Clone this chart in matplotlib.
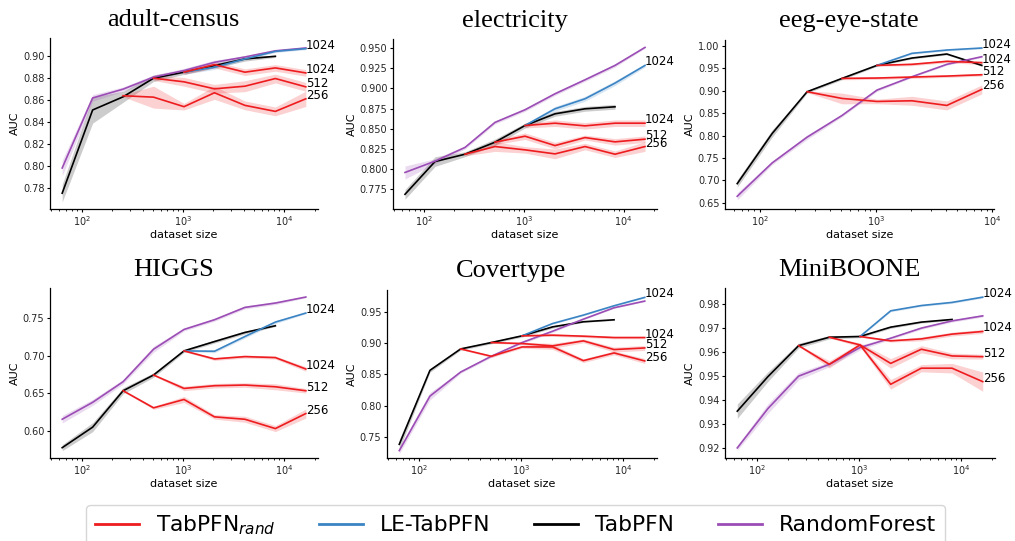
import matplotlib
matplotlib.use("Agg")
import matplotlib.pyplot as plt
import numpy as np
from matplotlib.lines import Line2D
from matplotlib.ticker import MultipleLocator

# ---------------- data ----------------
sizes = [64, 128, 256, 512, 1024, 2048, 4096, 8192, 16384]
titles = ["adult-census", "electricity", "eeg-eye-state", "HIGGS", "Covertype", "MiniBOONE"]
legend_labels = [r"TabPFN$_{rand}$", "LE-TabPFN", "TabPFN", "RandomForest"]
rand_contexts = [256, 512, 1024]
ytick_steps = [0.02, 0.025, 0.05, 0.05, 0.05, 0.01]
ylims = [(0.7606, 0.9167), (0.7508, 0.9612), (0.6358, 1.0134),
         (0.564, 0.790), (0.7163, 0.9848), (0.9159, 0.9867)]

# adult-census
adult_rf = [0.798, 0.862, 0.870, 0.881, 0.887, 0.8945, 0.8994, 0.905, 0.9076]
adult_rf_err = [0.007, 0.003, 0.002, 0.002, 0.002, 0.002, 0.001, 0.001, 0.001]
adult_tabpfn = [0.775, 0.851, 0.863, 0.880, 0.8855, 0.8915, 0.8976, 0.900]
adult_tabpfn_err = [0.008, 0.012, 0.005, 0.003, 0.002, 0.002, 0.002, 0.001]
adult_le = [0.8855, 0.890, 0.8976, 0.9045, 0.907]
adult_le_err = [0.002, 0.002, 0.001, 0.001, 0.001]
adult_r256 = [0.864, 0.8627, 0.854, 0.8667, 0.8552, 0.8497, 0.8612]
adult_r256_err = [0.001, 0.010, 0.003, 0.006, 0.004, 0.004, 0.007]
adult_r512 = [0.880, 0.8767, 0.8703, 0.8727, 0.8797, 0.8721]
adult_r512_err = [0.002, 0.004, 0.004, 0.005, 0.004, 0.004]
adult_r1024 = [0.8855, 0.8924, 0.8855, 0.8894, 0.8848]
adult_r1024_err = [0.002, 0.003, 0.003, 0.003, 0.003]

# electricity
elec_rf = [0.796, 0.810, 0.827, 0.858, 0.8736, 0.8934, 0.9107, 0.9285, 0.9508]
elec_rf_err = [0.008, 0.003, 0.002, 0.002, 0.002, 0.002, 0.002, 0.002, 0.001]
elec_tabpfn = [0.769, 0.8095, 0.8186, 0.8335, 0.8541, 0.8686, 0.8748, 0.8773]
elec_tabpfn_err = [0.006, 0.006, 0.003, 0.004, 0.003, 0.003, 0.003, 0.003]
elec_le = [0.8541, 0.8748, 0.8872, 0.9066, 0.9285]
elec_le_err = [0.002, 0.003, 0.003, 0.003, 0.002]
elec_r256 = [0.8186, 0.8281, 0.824, 0.819, 0.8281, 0.8186, 0.8281]
elec_r256_err = [0.002, 0.006, 0.004, 0.006, 0.004, 0.004, 0.006]
elec_r512 = [0.8335, 0.8409, 0.8293, 0.8392, 0.8339, 0.8372]
elec_r512_err = [0.003, 0.004, 0.004, 0.003, 0.004, 0.004]
elec_r1024 = [0.8541, 0.857, 0.8537, 0.857, 0.857]
elec_r1024_err = [0.003, 0.004, 0.004, 0.004, 0.004]

# eeg-eye-state (up to 8192)
eeg_rf = [0.6642, 0.7388, 0.7963, 0.8448, 0.9015, 0.9313, 0.959, 0.9761]
eeg_rf_err = [0.008, 0.004, 0.005, 0.003, 0.003, 0.002, 0.002, 0.002]
eeg_tabpfn = [0.6925, 0.8045, 0.8978, 0.9276, 0.9567, 0.9731, 0.9821, 0.9567]
eeg_tabpfn_err = [0.008, 0.008, 0.003, 0.003, 0.002, 0.002, 0.002, 0.002]
eeg_le = [0.9567, 0.9836, 0.991, 0.9955]
eeg_le_err = [0.002, 0.002, 0.002, 0.002]
eeg_r256 = [0.8978, 0.8828, 0.8761, 0.8776, 0.8672, 0.903]
eeg_r256_err = [0.002, 0.012, 0.005, 0.010, 0.010, 0.010]
eeg_r512 = [0.9276, 0.9284, 0.9306, 0.9328, 0.9358]
eeg_r512_err = [0.003, 0.003, 0.003, 0.003, 0.003]
eeg_r1024 = [0.9567, 0.959, 0.9657, 0.9627]
eeg_r1024_err = [0.002, 0.003, 0.003, 0.004]

# HIGGS
higgs_rf = [0.6155, 0.638, 0.6654, 0.7086, 0.7349, 0.7478, 0.7642, 0.770, 0.778]
higgs_rf_err = [0.005, 0.004, 0.003, 0.004, 0.002, 0.002, 0.002, 0.002, 0.001]
higgs_tabpfn = [0.5777, 0.605, 0.6534, 0.6743, 0.7064, 0.7188, 0.7309, 0.7398]
higgs_tabpfn_err = [0.004, 0.006, 0.004, 0.003, 0.002, 0.002, 0.002, 0.001]
higgs_le = [0.7064, 0.7059, 0.7255, 0.7447, 0.7567]
higgs_le_err = [0.001, 0.002, 0.002, 0.002, 0.001]
higgs_r256 = [0.6534, 0.6307, 0.6418, 0.6187, 0.6155, 0.6031, 0.6231]
higgs_r256_err = [0.001, 0.002, 0.004, 0.003, 0.004, 0.004, 0.006]
higgs_r512 = [0.6743, 0.6565, 0.6601, 0.661, 0.6587, 0.6534]
higgs_r512_err = [0.001, 0.003, 0.003, 0.003, 0.004, 0.003]
higgs_r1024 = [0.7064, 0.6957, 0.6988, 0.6975, 0.6823]
higgs_r1024_err = [0.001, 0.002, 0.002, 0.002, 0.003]

# Covertype
cover_rf = [0.7281, 0.8152, 0.8537, 0.8789, 0.9008, 0.919, 0.9382, 0.9564, 0.9671]
cover_rf_err = [0.005, 0.006, 0.002, 0.002, 0.002, 0.002, 0.001, 0.001, 0.001]
cover_tabpfn = [0.7382, 0.8564, 0.8906, 0.9008, 0.9115, 0.9259, 0.934, 0.9372]
cover_tabpfn_err = [0.008, 0.003, 0.002, 0.002, 0.002, 0.002, 0.001, 0.001]
cover_le = [0.9115, 0.9313, 0.9447, 0.9596, 0.973]
cover_le_err = [0.001, 0.001, 0.001, 0.001, 0.001]
cover_r256 = [0.8906, 0.8789, 0.8938, 0.8938, 0.8719, 0.8842, 0.8714]
cover_r256_err = [0.001, 0.002, 0.002, 0.004, 0.003, 0.003, 0.004]
cover_r512 = [0.9008, 0.8992, 0.8955, 0.9035, 0.8896, 0.8922]
cover_r512_err = [0.001, 0.002, 0.004, 0.003, 0.004, 0.004]
cover_r1024 = [0.9115, 0.9126, 0.911, 0.9088, 0.9088]
cover_r1024_err = [0.001, 0.002, 0.002, 0.002, 0.002]

# MiniBOONE
mini_rf = [0.9201, 0.9365, 0.950, 0.9549, 0.9619, 0.9658, 0.970, 0.973, 0.9751]
mini_rf_err = [0.001, 0.002, 0.0015, 0.001, 0.001, 0.0005, 0.0005, 0.0005, 0.0005]
mini_tabpfn = [0.9354, 0.9498, 0.9627, 0.9662, 0.9665, 0.9704, 0.9725, 0.9736]
mini_tabpfn_err = [0.003, 0.002, 0.001, 0.0007, 0.0005, 0.0005, 0.0004, 0.0004]
mini_le = [0.9665, 0.9772, 0.9794, 0.9807, 0.9829]
mini_le_err = [0.0003, 0.0004, 0.0004, 0.0004, 0.0004]
mini_r256 = [0.9627, 0.9549, 0.963, 0.9466, 0.9533, 0.9533, 0.9477]
mini_r256_err = [0.0003, 0.0015, 0.0008, 0.002, 0.0015, 0.002, 0.004]
mini_r512 = [0.9662, 0.963, 0.9553, 0.9612, 0.9584, 0.9581]
mini_r512_err = [0.0003, 0.0008, 0.002, 0.0015, 0.0012, 0.001]
mini_r1024 = [0.9665, 0.9647, 0.9655, 0.9675, 0.9686]
mini_r1024_err = [0.0003, 0.0005, 0.0008, 0.0008, 0.0008]

datasets = [
    dict(rf=adult_rf, rf_err=adult_rf_err, tab=adult_tabpfn, tab_err=adult_tabpfn_err,
         le=adult_le, le_err=adult_le_err,
         rand=[(adult_r256, adult_r256_err), (adult_r512, adult_r512_err), (adult_r1024, adult_r1024_err)]),
    dict(rf=elec_rf, rf_err=elec_rf_err, tab=elec_tabpfn, tab_err=elec_tabpfn_err,
         le=elec_le, le_err=elec_le_err,
         rand=[(elec_r256, elec_r256_err), (elec_r512, elec_r512_err), (elec_r1024, elec_r1024_err)]),
    dict(rf=eeg_rf, rf_err=eeg_rf_err, tab=eeg_tabpfn, tab_err=eeg_tabpfn_err,
         le=eeg_le, le_err=eeg_le_err,
         rand=[(eeg_r256, eeg_r256_err), (eeg_r512, eeg_r512_err), (eeg_r1024, eeg_r1024_err)]),
    dict(rf=higgs_rf, rf_err=higgs_rf_err, tab=higgs_tabpfn, tab_err=higgs_tabpfn_err,
         le=higgs_le, le_err=higgs_le_err,
         rand=[(higgs_r256, higgs_r256_err), (higgs_r512, higgs_r512_err), (higgs_r1024, higgs_r1024_err)]),
    dict(rf=cover_rf, rf_err=cover_rf_err, tab=cover_tabpfn, tab_err=cover_tabpfn_err,
         le=cover_le, le_err=cover_le_err,
         rand=[(cover_r256, cover_r256_err), (cover_r512, cover_r512_err), (cover_r1024, cover_r1024_err)]),
    dict(rf=mini_rf, rf_err=mini_rf_err, tab=mini_tabpfn, tab_err=mini_tabpfn_err,
         le=mini_le, le_err=mini_le_err,
         rand=[(mini_r256, mini_r256_err), (mini_r512, mini_r512_err), (mini_r1024, mini_r1024_err)]),
]

# ---------------- style ----------------
C_RAND = "#ee1c1f"
C_LE = "#3b84c4"
C_TAB = "#000000"
C_RF = "#9b4db5"
LW = 1.2

W, H = 1015, 541
# axes boxes in pixels: (left, right, top, bottom)
boxes = [(50, 318, 38, 209), (393, 657, 39, 209), (725, 994, 40, 209),
         (50, 318, 288, 458), (387, 657, 290, 458), (725, 995, 288, 458)]

fig = plt.figure(figsize=(W / 100, H / 100), dpi=100)


def band(ax, x, y, e, color):
    y = np.asarray(y)
    e = np.asarray(e)
    ax.fill_between(x, y - e, y + e, color=color, alpha=0.2, linewidth=0)
    ax.plot(x, y, color=color, lw=LW)


for title, d, (l, r, t, b), step, yl in zip(titles, datasets, boxes, ytick_steps, ylims):
    ax = fig.add_axes([l / W, 1 - b / H, (r - l) / W, (b - t) / H])
    n_tab = len(d["tab"])
    x_tab = sizes[:n_tab]
    x_rf = sizes[:len(d["rf"])]
    band(ax, x_tab, d["tab"], d["tab_err"], C_TAB)
    band(ax, x_rf, d["rf"], d["rf_err"], C_RF)
    x_le = sizes[4:4 + len(d["le"])]
    band(ax, x_le, d["le"], d["le_err"], C_LE)
    ax.text(x_le[-1], d["le"][-1], "1024", fontsize=8.5, ha="left", va="baseline")
    for ctx, (vals, errs) in zip(rand_contexts, d["rand"]):
        i0 = sizes.index(ctx)
        xr = sizes[i0:i0 + len(vals)]
        band(ax, xr, vals, errs, C_RAND)
        ax.text(xr[-1], vals[-1], str(ctx), fontsize=8.5, ha="left", va="baseline")
    ax.set_xscale("log")
    ax.set_ylim(*yl)
    ax.yaxis.set_major_locator(MultipleLocator(step))
    ax.set_title(title, fontsize=19, family="Liberation Serif", x=0.46, pad=9)
    ax.set_xlabel("dataset size", fontsize=8, labelpad=1)
    ax.set_ylabel("AUC", fontsize=8, labelpad=2)
    for s in ["top", "right"]:
        ax.spines[s].set_visible(False)
    for s in ["left", "bottom"]:
        ax.spines[s].set_linewidth(0.9)
    ax.tick_params(axis="both", which="major", labelsize=7, length=2.5, width=0.8, pad=1.5,
                   labelcolor="#262626")
    ax.tick_params(axis="x", which="minor", length=1.5, width=0.6)

handles = [Line2D([], [], color=c, lw=2) for c in [C_RAND, C_LE, C_TAB, C_RF]]
fig.legend(handles, legend_labels, loc="upper center", bbox_to_anchor=(0.508, 0.067),
           ncol=4, fontsize=15.7, frameon=True, borderaxespad=0)

fig.savefig("out.png", dpi=100)
